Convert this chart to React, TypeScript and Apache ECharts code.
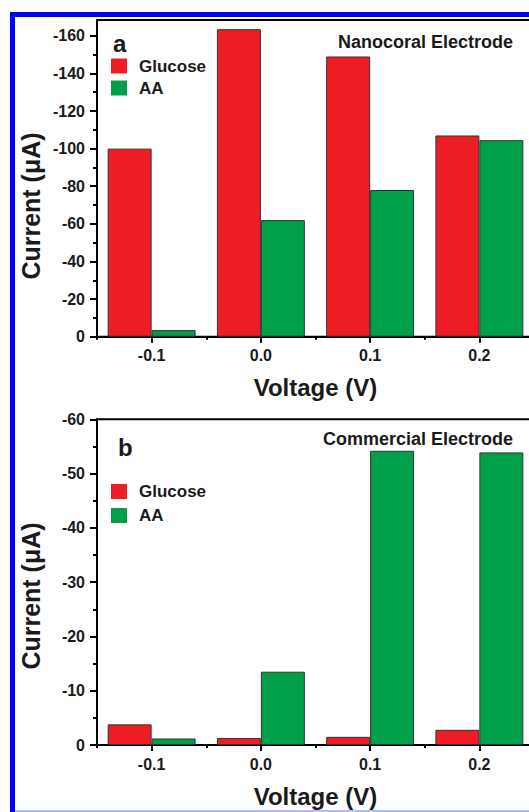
import React, { useEffect, useRef } from 'react';
import * as echarts from 'echarts';

const voltages = ['-0.1', '0.0', '0.1', '0.2'];
const nanoGlucose = [-100, -163.5, -149, -107];
const nanoAA = [-3.5, -62, -78, -104.5];
const commGlucose = [-3.8, -1.3, -1.5, -2.8];
const commAA = [-1.2, -13.5, -54.2, -53.9];
const nanoMajorTicks = [-160, -140, -120, -100, -80, -60, -40, -20, 0];
const nanoMinorTicks = [-150, -130, -110, -90, -70, -50, -30, -10];
const commMajorTicks = [-60, -50, -40, -30, -20, -10, 0];
const commMinorTicks = [-55, -45, -35, -25, -15, -5];
const seriesNames = ['Glucose', 'AA'];

const FONT = '"Liberation Sans", Arial, sans-serif';
const RED = '#EE1D24';
const GREEN = '#00A04B';
const INK = '#1a1a1a';

function majorX(gridIndex: number) {
  return {
    type: 'category',
    gridIndex,
    position: 'bottom',
    data: voltages,
    axisLine: { show: true, lineStyle: { color: '#000', width: 2 } },
    axisTick: { show: true, alignWithLabel: true, length: 6, lineStyle: { color: '#000', width: 2 } },
    axisLabel: { margin: 11, fontFamily: FONT, fontWeight: 'bold', fontSize: 16, color: INK },
    name: 'Voltage (V)',
    nameLocation: 'middle',
    nameGap: 39,
    nameTextStyle: { fontFamily: FONT, fontWeight: 'bold', fontSize: 24, color: INK },
    splitLine: { show: false },
  };
}
function minorX(gridIndex: number) {
  return {
    type: 'category',
    gridIndex,
    position: 'bottom',
    data: voltages,
    axisLine: { show: false },
    axisTick: { show: true, alignWithLabel: false, length: 3, lineStyle: { color: '#000', width: 2 } },
    axisLabel: { show: false },
    splitLine: { show: false },
  };
}
function majorY(gridIndex: number, min: number, ticks: number[]) {
  return {
    type: 'value',
    gridIndex,
    position: 'left',
    inverse: true,
    min,
    max: 0,
    axisLine: { show: true, lineStyle: { color: '#000', width: 2 } },
    axisTick: { show: true, length: 7, customValues: ticks, lineStyle: { color: '#000', width: 2 } },
    axisLabel: { margin: 12, customValues: ticks, fontFamily: FONT, fontWeight: 'bold', fontSize: 16, color: INK },
    splitLine: { show: false },
  };
}
function minorY(gridIndex: number, min: number, ticks: number[]) {
  return {
    type: 'value',
    gridIndex,
    position: 'left',
    offset: 0,
    inverse: true,
    min,
    max: 0,
    axisLine: { show: false },
    axisTick: { show: true, length: 4, customValues: ticks, lineStyle: { color: '#000', width: 2 } },
    axisLabel: { show: false },
    splitLine: { show: false },
  };
}
function bar(name: string, data: number[], color: string, idx: number) {
  return {
    type: 'bar',
    name,
    data,
    xAxisIndex: idx,
    yAxisIndex: idx,
    barGap: '0%',
    barCategoryGap: '19.5%',
    itemStyle: { color, borderColor: '#333', borderWidth: 1 },
  };
}
function legendAt(top: number, gap: number) {
  return {
    data: seriesNames,
    orient: 'vertical',
    left: 111,
    top,
    padding: 0,
    itemGap: gap,
    itemWidth: 16,
    itemHeight: 15,
    icon: 'rect',
    itemStyle: { borderWidth: 0 },
    textStyle: { fontFamily: FONT, fontWeight: 'bold', fontSize: 17, color: INK, padding: [0, 0, 0, 7] },
  };
}
function txt(text: string, x: number, y: number, size: number, extra: any = {}) {
  return {
    type: 'text',
    x,
    y,
    silent: true,
    ...extra,
    style: {
      text,
      fontFamily: FONT,
      fontWeight: 'bold',
      fontSize: size,
      fill: INK,
      textAlign: extra.align || 'left',
      textVerticalAlign: 'middle',
    },
  };
}

export default function App() {
  const ref = useRef<HTMLDivElement>(null);
  useEffect(() => {
    if (!ref.current) return;
    const chart = echarts.init(ref.current, undefined, { renderer: 'svg' });
    const gridBase = { left: 97, width: 437, show: true, borderColor: '#000', borderWidth: 2, backgroundColor: 'transparent', containLabel: false, outerBoundsMode: 'none' };
    chart.setOption({
      animation: false,
      backgroundColor: '#fff',
      grid: [
        { ...gridBase, top: 20, height: 316.7 },
        { ...gridBase, top: 419.3, height: 325.7 },
      ],
      xAxis: [majorX(0), minorX(0), majorX(1), minorX(1)],
      yAxis: [
        majorY(0, -168.4, nanoMajorTicks),
        minorY(0, -168.4, nanoMinorTicks),
        majorY(1, -60, commMajorTicks),
        minorY(1, -60, commMinorTicks),
      ],
      legend: [legendAt(57.5, 5), legendAt(483, 7)],
      series: [
        bar('Glucose', nanoGlucose, RED, 0),
        bar('AA', nanoAA, GREEN, 0),
        bar('Glucose', commGlucose, RED, 2),
        bar('AA', commAA, GREEN, 2),
      ],
      graphic: [
        { type: 'line', silent: true, shape: { x1: 12.5, y1: 12, x2: 12.5, y2: 812 }, style: { stroke: '#0000ff', lineWidth: 5 } },
        { type: 'line', silent: true, shape: { x1: 10, y1: 14.5, x2: 529, y2: 14.5 }, style: { stroke: '#0000ff', lineWidth: 5 } },
        { type: 'line', silent: true, shape: { x1: 15, y1: 811, x2: 529, y2: 811 }, style: { stroke: '#b4baff', lineWidth: 2 } },
        txt('a', 113, 43, 24),
        txt('b', 118, 447, 24),
        txt('Nanocoral Electrode', 513, 42, 18, { align: 'right' }),
        txt('Commercial Electrode', 513, 439, 18, { align: 'right' }),
        txt('Current (\u03bcA)', 31, 206, 25, { align: 'center', rotation: Math.PI / 2 }),
        txt('Current (\u03bcA)', 31, 596, 25, { align: 'center', rotation: Math.PI / 2 }),
      ],
    });
    return () => chart.dispose();
  }, []);
  return <div ref={ref} style={{ position: 'absolute', left: 0, top: 0, width: 529, height: 812 }} />;
}
